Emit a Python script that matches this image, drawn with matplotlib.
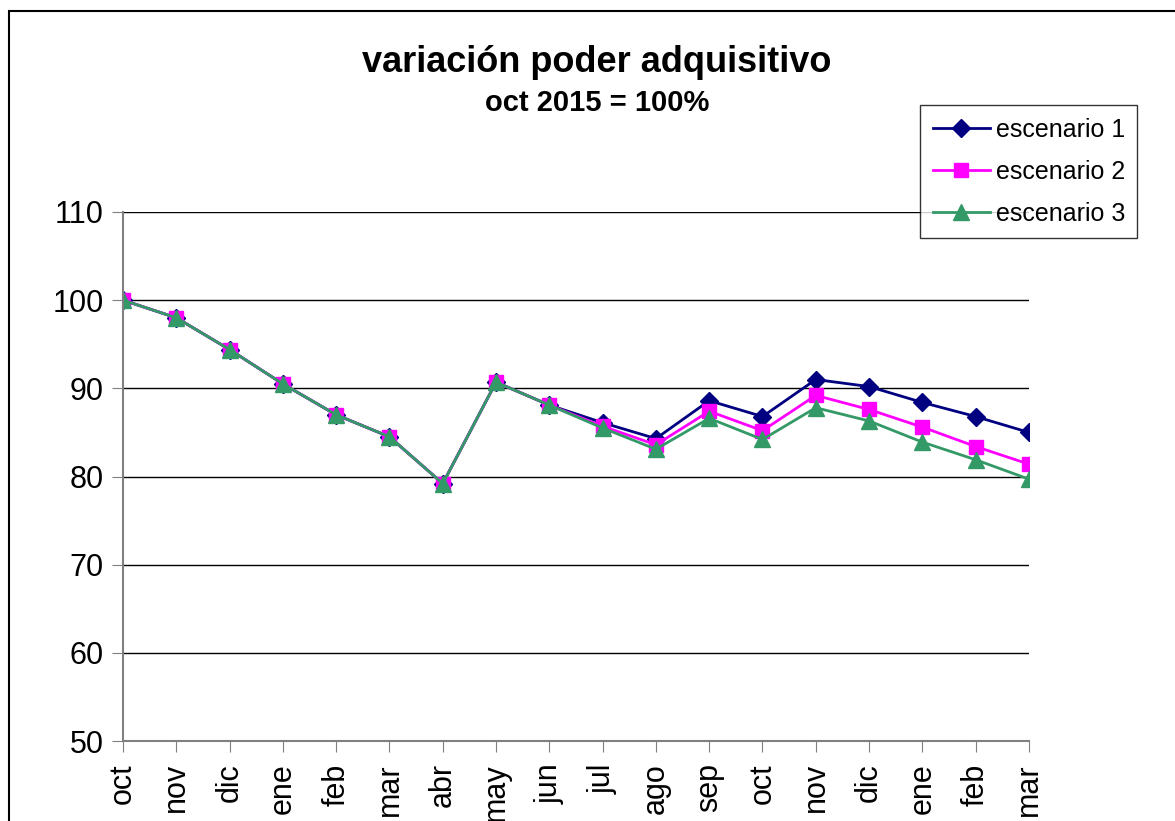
import numpy as np
import matplotlib.pyplot as plt
from matplotlib.patches import Rectangle

plt.rcParams['font.family'] = ['Liberation Sans', 'DejaVu Sans']

meses = ["oct", "nov", "dic", "ene", "feb", "mar", "abr", "may", "jun",
         "jul", "ago", "sep", "oct", "nov", "dic", "ene", "feb", "mar"]

esc1 = [100.0, 98.0, 94.4, 90.5, 87.0, 84.5, 79.2, 90.7, 88.1,
        86.1, 84.3, 88.6, 86.8, 91.0, 90.2, 88.4, 86.8, 85.0]
esc2 = [100.0, 98.0, 94.4, 90.5, 87.0, 84.5, 79.2, 90.7, 88.1,
        85.7, 83.6, 87.4, 85.2, 89.2, 87.6, 85.6, 83.4, 81.4]
esc3 = [100.0, 98.0, 94.4, 90.5, 87.0, 84.5, 79.2, 90.7, 88.1,
        85.5, 83.1, 86.6, 84.2, 87.8, 86.3, 83.9, 81.9, 79.7]

x = np.arange(len(meses))

fig = plt.figure(figsize=(11.75, 8.21), dpi=100)
ax = fig.add_axes([0.1047, 0.0974, 0.771, 0.6444])

ax.plot(x, esc1, color="#000080", lw=2, marker="D", ms=9, label="escenario 1")
ax.plot(x, esc2, color="#FF00FF", lw=2, marker="s", ms=10, label="escenario 2")
ax.plot(x, esc3, color="#339966", lw=2, marker="^", ms=12, label="escenario 3")

ax.set_xlim(0, len(meses) - 1)
ax.set_ylim(50, 110)
ax.set_yticks(np.arange(50, 111, 10))
ax.set_xticks(x)
ax.set_xticklabels(meses, rotation=90, fontsize=22)
ax.tick_params(axis='y', labelsize=22, length=8, color="#808080", pad=6)
ax.tick_params(axis='x', length=8, color="#808080", pad=8)
ax.yaxis.grid(True, color="black", lw=1)
ax.set_axisbelow(True)
for s in ["top", "right"]:
    ax.spines[s].set_visible(False)
ax.spines["left"].set_color("#808080")
ax.spines["bottom"].set_color("#808080")
ax.spines["left"].set_linewidth(1.5)
ax.spines["bottom"].set_linewidth(1.5)

fig.text(0.508, 0.924, "variación poder adquisitivo", ha="center", va="center",
         fontsize=26, fontweight="bold")
fig.text(0.508, 0.874, "oct 2015 = 100%", ha="center", va="center",
         fontsize=21, fontweight="bold")

leg = ax.legend(loc="upper left", bbox_to_anchor=(0.7830, 0.7113, 0.1847, 0.1608),
                bbox_transform=fig.transFigure, mode="expand", fontsize=18,
                frameon=True, fancybox=False, edgecolor="black", borderaxespad=0,
                handlelength=2.3, labelspacing=0.72, borderpad=0.5, handletextpad=0.25)
leg.get_frame().set_linewidth(1)

fig.add_artist(Rectangle((0.0077, -0.1), 1.1, 1.0866, transform=fig.transFigure,
                         fill=False, edgecolor="black", lw=1.5))

plt.savefig("out.png", dpi=100)
